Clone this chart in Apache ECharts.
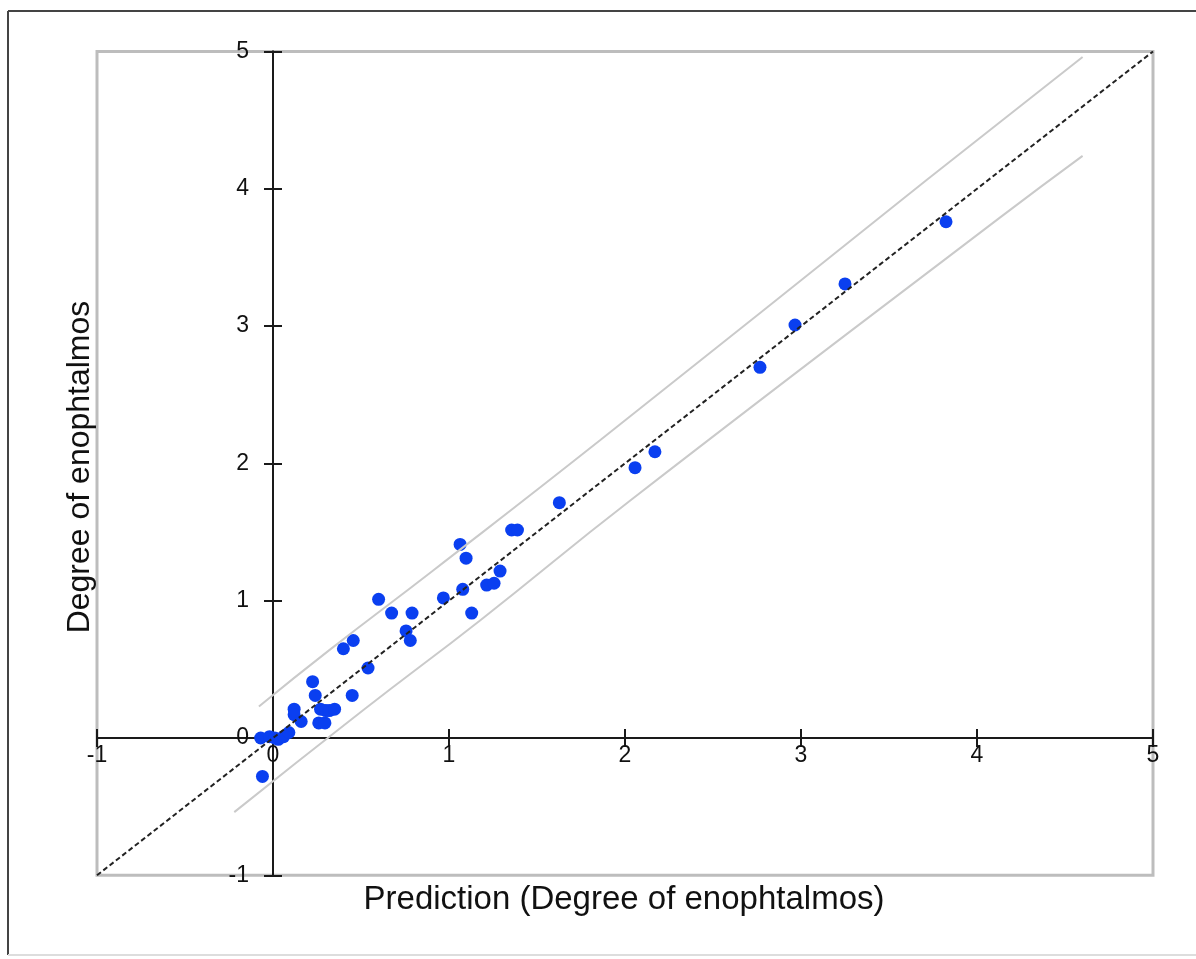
<!DOCTYPE html>
<html>
<head>
<meta charset="utf-8">
<script src="https://cdn.jsdelivr.net/npm/echarts@6/dist/echarts.min.js"></script>
<style>
html,body{margin:0;padding:0;background:#fff;}
#chart{width:1196px;height:959px;}
</style>
</head>
<body>
<div id="chart"></div>
<script>
// prediction (x) / measured (y) degree of enophtalmos
var predX = [-0.07, -0.02, 0.01, 0.03, 0.06, 0.09, -0.06,
	0.12, 0.12, 0.16, 0.225, 0.24,
	0.27, 0.30, 0.32, 0.35, 0.26, 0.295,
	0.45, 0.54, 0.40, 0.456,
	0.60, 0.674, 0.79, 0.756, 0.78,
	0.968, 1.078, 1.129,
	1.063, 1.097, 1.29, 1.214, 1.256, 1.356, 1.389,
	1.627, 2.057, 2.17, 2.767, 2.966, 3.25, 3.824];
var measY = [0.0, 0.01, 0.0, -0.01, 0.01, 0.04, -0.28,
	0.21, 0.17, 0.12, 0.41, 0.31,
	0.21, 0.20, 0.20, 0.21, 0.11, 0.11,
	0.31, 0.51, 0.65, 0.71,
	1.01, 0.91, 0.91, 0.78, 0.71,
	1.02, 1.083, 0.91,
	1.41, 1.31, 1.216, 1.114, 1.127, 1.515, 1.515,
	1.714, 1.969, 2.085, 2.70, 3.008, 3.307, 3.76];
// grey limit lines
var upperBand = [[-0.08, 0.23], [0.32, 0.64], [0.91, 1.22], [1.86, 2.17], [3.71, 4.06], [4.60, 4.96]];
var lowerBand = [[-0.22, -0.54], [0.51, 0.20], [1.18, 0.86], [2.03, 1.73], [4.13, 3.79], [4.60, 4.24]];
// identity line
var identity = [[-1, -1], [5, 5]];
var tickMin = -1, tickMax = 5;

var points = [];
for (var i = 0; i < predX.length; i++) {
	points.push([predX[i], measY[i]]);
}

var font = 'Liberation Sans, Arial, sans-serif';
var myChart = echarts.init(document.getElementById('chart'));

// axes cross at 0,0 : moved in from the grid edge with offset
function axisBase(pos, showLabel, inside, margin, offset) {
	return {
		type: 'value',
		position: pos,
		min: tickMin,
		max: tickMax,
		interval: 1,
		offset: offset,
		splitLine: {show: false},
		axisLine: {show: true, onZero: false, lineStyle: {color: '#1a1a1a', width: 2}},
		axisTick: {show: true, inside: inside, length: 9, lineStyle: {color: '#1a1a1a', width: 2}},
		axisLabel: {show: showLabel, color: '#111', fontSize: 23, fontFamily: font, margin: margin}
	};
}

myChart.setOption({
	animation: false,
	backgroundColor: '#fff',
	grid: {
		left: 97, right: 43, top: 51.5, bottom: 83.7,
		show: true, borderColor: '#bdbdbd', borderWidth: 3
	},
	xAxis: [axisBase('bottom', true, false, 6, -137.3), axisBase('bottom', false, true, 0, -137.3)],
	yAxis: [axisBase('left', true, false, 24, -176), axisBase('left', false, true, 0, -176)],
	graphic: [
		{type: 'line', shape: {x1: 8, y1: 11, x2: 8, y2: 955}, style: {stroke: '#444', lineWidth: 2}},
		{type: 'line', shape: {x1: 8, y1: 11, x2: 1200, y2: 11}, style: {stroke: '#444', lineWidth: 2}},
		{type: 'line', shape: {x1: 8, y1: 955, x2: 1200, y2: 955}, style: {stroke: '#ddd', lineWidth: 2}},
		{type: 'text', x: 624, y: 900, style: {text: 'Prediction (Degree of enophtalmos)', font: '33px ' + font, fill: '#111', textAlign: 'center', textVerticalAlign: 'middle'}},
		{type: 'text', x: 80, y: 467, rotation: Math.PI / 2, style: {text: 'Degree of enophtalmos', font: '32px ' + font, fill: '#111', textAlign: 'center', textVerticalAlign: 'middle'}}
	],
	series: [
		{
			type: 'line', data: upperBand, smooth: true, symbol: 'none', silent: true,
			lineStyle: {color: '#cacaca', width: 2}
		},
		{
			type: 'line', data: lowerBand, smooth: true, symbol: 'none', silent: true,
			lineStyle: {color: '#cacaca', width: 2}
		},
		{
			type: 'line', data: identity, symbol: 'none', silent: true,
			lineStyle: {color: '#222', width: 2, type: [5, 3]}
		},
		{
			type: 'scatter', data: points, symbolSize: 13,
			itemStyle: {color: '#0a3ff0', opacity: 1}
		}
	]
});
</script>
</body>
</html>
